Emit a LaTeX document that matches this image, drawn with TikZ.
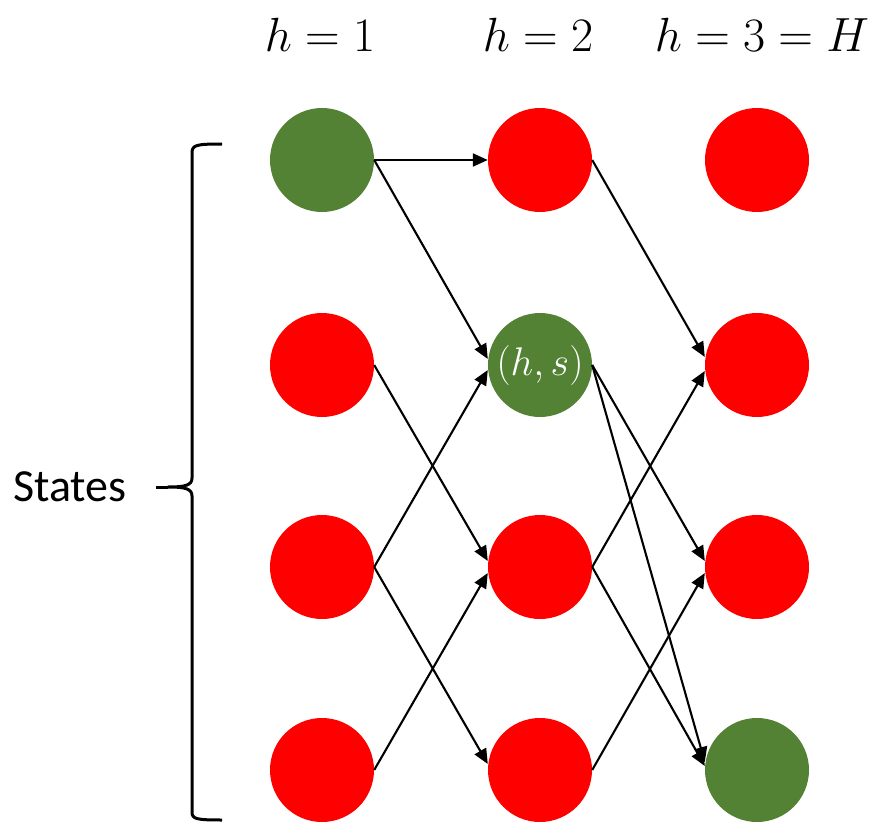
\RequirePackage{fix-cm}
\documentclass[tikz,border=0pt]{standalone}
\usepackage{fontspec}
\newfontfamily\statesfont{Carlito}
\usetikzlibrary{arrows.meta}
\definecolor{dgreen}{HTML}{548235}
\definecolor{sred}{HTML}{FF0000}
\begin{document}
\begin{tikzpicture}[x=1pt,y=-1pt,
  st/.style={circle,minimum size=104pt,inner sep=0pt},
  redst/.style={st,fill=sred},
  greenst/.style={st,fill=dgreen,text=white,font=\fontsize{40}{44}\selectfont},
  arr/.style={line width=2.1pt,-{Triangle[length=15pt,width=13pt]}},
  hl/.style={font=\fontsize{48}{54}\selectfont},
  brace/.style={line width=3pt,line join=round}
]
\useasboundingbox (0,0) rectangle (876,824);
% headers
\node[hl] (t1) at (320,35) {$h=1$};
\node[hl] (t2) at (538,35) {$h=2$};
\node[hl] (t3) at (762,35) {$h=3=H$};
% states
\node[greenst] (a11) at (322,160) {};
\node[redst] (a12) at (322,365) {};
\node[redst] (a13) at (322,567) {};
\node[redst] (a14) at (322,770) {};
\node[redst] (a21) at (540,160) {};
\node[greenst] (a22) at (540,365) {$(h,s)$};
\node[redst] (a23) at (540,567) {};
\node[redst] (a24) at (540,770) {};
\node[redst] (a31) at (757,160) {};
\node[redst] (a32) at (757,365) {};
\node[redst] (a33) at (757,567) {};
\node[st,fill=dgreen] (a34) at (757,770) {};
% label and brace
\node[font=\statesfont\fontsize{46}{50}\selectfont,anchor=east] (lab) at (130,487) {States};
\coordinate (tip) at (168,487);
\draw[brace] (222,144) .. controls (196,144) and (192,145) .. (192,153)
  -- (192,478) .. controls (192,485) and (186,487) .. (tip)
  .. controls (186,487) and (192,489) .. (192,496)
  -- (192,812) .. controls (192,819) and (196,820) .. (222,820);
\draw[brace] (tip) -- (156,487);
% edges
\draw[arr] (a11.east) -- (a21.west);
\draw[arr] (a11.east) -- ([yshift=6pt]a22.west);
\draw[arr] (a13.east) -- ([yshift=-5pt]a22.west);
\draw[arr] (a12.east) -- ([yshift=6pt]a23.west);
\draw[arr] (a14.east) -- ([yshift=-6pt]a23.west);
\draw[arr] (a13.east) -- ([yshift=6pt]a24.west);
\draw[arr] (a21.east) -- ([yshift=8pt]a32.west);
\draw[arr] (a23.east) -- ([yshift=-6pt]a32.west);
\draw[arr] (a22.east) -- ([yshift=6pt]a33.west);
\draw[arr] (a24.east) -- ([yshift=-6pt]a33.west);
\draw[arr] (a22.east) -- ([yshift=8pt]a34.west);
\draw[arr] (a23.east) -- ([yshift=4pt]a34.west);
\end{tikzpicture}
\end{document}
